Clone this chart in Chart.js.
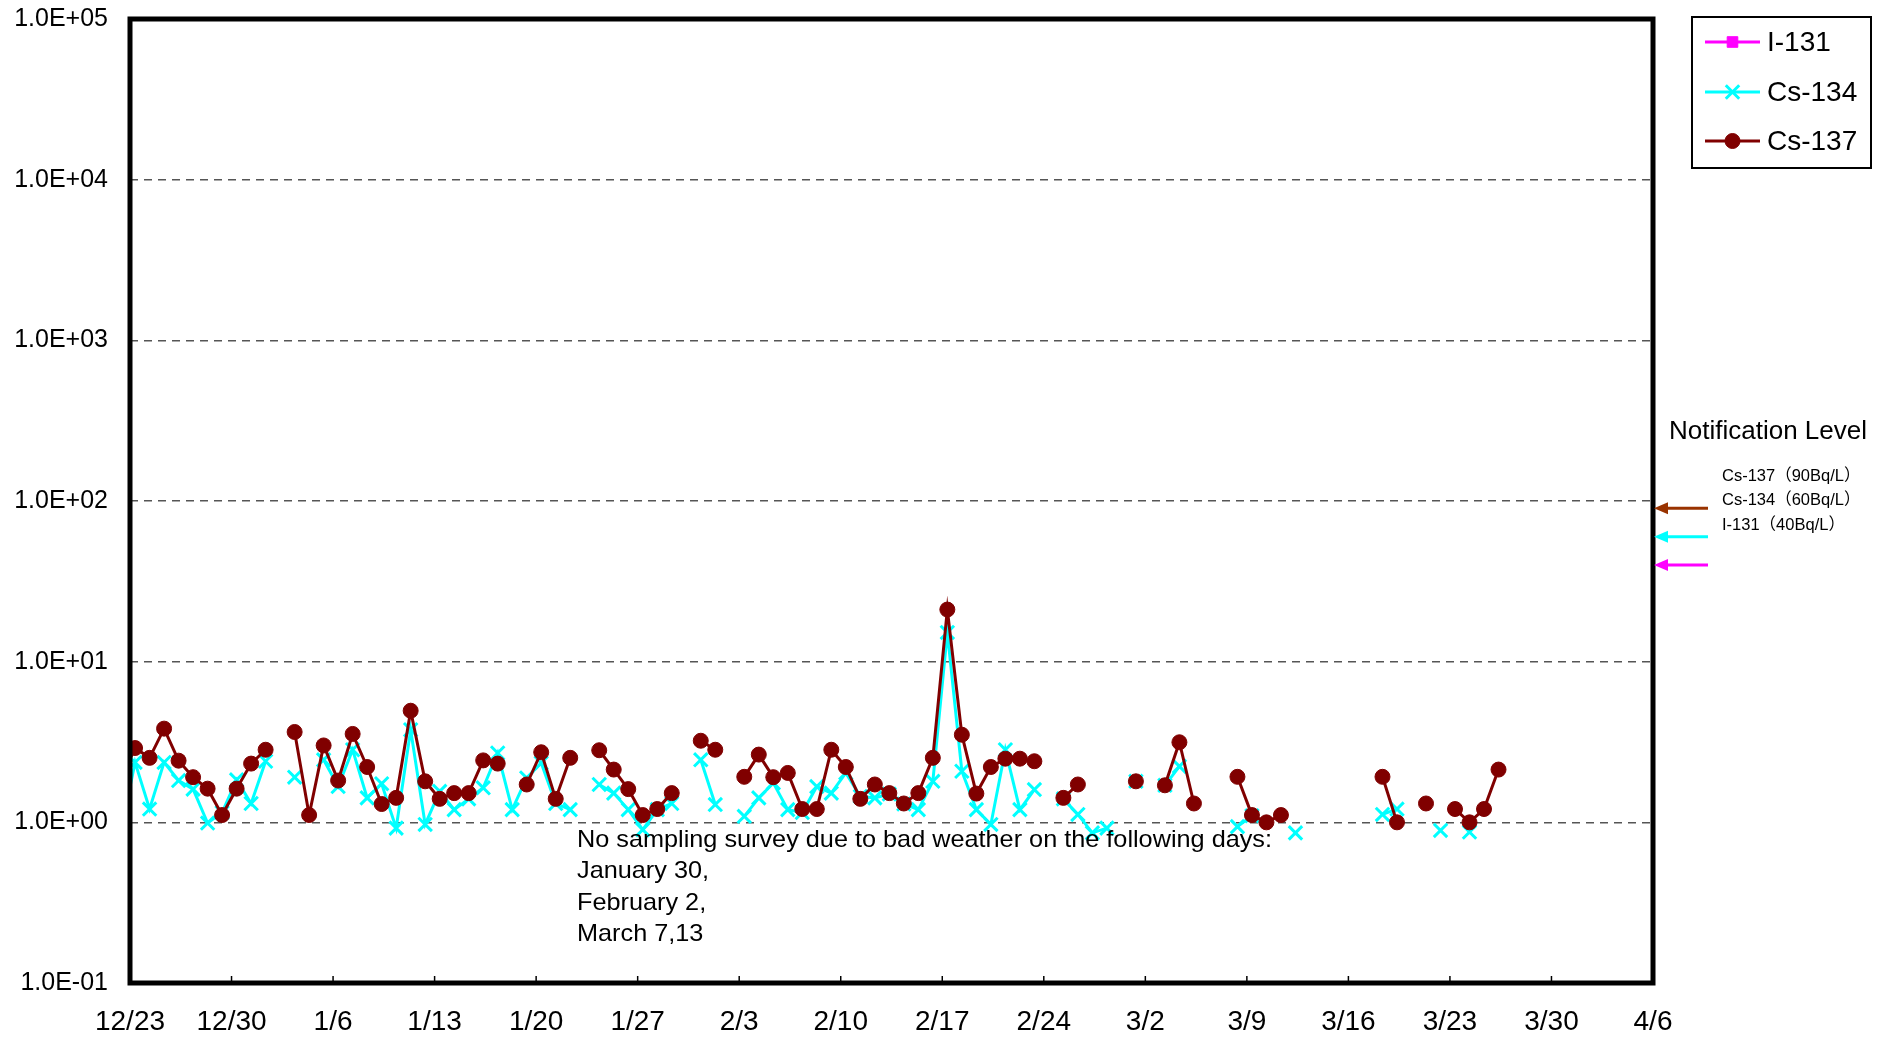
<!DOCTYPE html>
<html>
<head>
<meta charset="utf-8">
<title>Seawater monitoring</title>
<script src="https://cdn.jsdelivr.net/npm/chart.js@4.4.1/dist/chart.umd.min.js"></script>
<style>
    html, body { margin: 0; padding: 0; background: #fff; }
    #wrap { width: 1893px; height: 1040px; }
</style>
</head>
<body>
<div id="wrap"><canvas id="chart" width="1893" height="1040"></canvas></div>
<script>
// Weekly tick labels, day 0 = 12/23 (leap year, so 2/24 + 7 = 3/2)
const tickLabels = ['12/23', '12/30', '1/6', '1/13', '1/20', '1/27', '2/3', '2/10',
    '2/17', '2/24', '3/2', '3/9', '3/16', '3/23', '3/30', '4/6'];
const yTickValues = [0.1, 1, 10, 100, 1000, 10000, 100000];
const yTickLabels = ['1.0E-01', '1.0E+00', '1.0E+01', '1.0E+02', '1.0E+03', '1.0E+04', '1.0E+05'];

// Daily samples (Bq/L), first entry is 12/22. null = not detected / no sampling
const firstDay = -1;
const sampleTime = 0.35; // samples taken in the morning

const cs137 = [
    1.85, 2.90, 2.52, 3.83, 2.42, 1.91, 1.62, 1.11, 1.62, 2.32,
    2.83, null, 3.65, 1.11, 3.01, 1.82, 3.55, 2.21, 1.30, 1.42,
    4.95, 1.80, 1.40, 1.52, 1.52, 2.43, 2.32, null, 1.72, 2.73,
    1.40, 2.52, null, 2.81, 2.13, 1.61, 1.11, 1.21, 1.52, null,
    3.22, 2.83, null, 1.92, 2.64, 1.91, 2.03, 1.21, 1.21, 2.83,
    2.21, 1.40, 1.72, 1.52, 1.31, 1.52, 2.52, 21.1, 3.51, 1.51,
    2.21, 2.49, 2.49, 2.40, null, 1.42, 1.72, null, null, null,
    1.80, null, 1.70, 3.15, 1.31, null, null, 1.92, 1.11, 1.00,
    1.11, null, null, null, null, null, null, 1.92, 1.00, null,
    1.31, null, 1.21, 1.00, 1.21, 2.13
];

const cs134 = [
    0.87, 2.36, 1.21, 2.36, 1.82, 1.61, 0.99, 1.15, 1.84, 1.31,
    2.40, null, 1.91, null, 2.45, 1.67, 2.83, 1.42, 1.74, 0.92,
    3.77, 0.97, 1.56, 1.20, 1.40, 1.64, 2.70, 1.20, 1.89, 2.34,
    1.31, 1.20, null, 1.72, 1.52, 1.20, 0.90, 1.20, 1.31, null,
    2.45, 1.29, null, 1.09, 1.42, 1.76, 1.20, 1.15, 1.67, 1.52,
    2.03, 1.45, 1.42, 1.50, 1.30, 1.20, 1.80, 15.2, 2.08, 1.20,
    0.97, 2.83, 1.20, 1.60, null, 1.40, 1.12, 0.86, 0.92, null,
    1.80, null, 1.70, 2.23, null, null, null, 0.94, 1.10, null,
    null, 0.86, null, null, null, null, null, 1.12, 1.21, null,
    null, 0.89, null, 0.87, null, null
];

const i131 = []; // never detected in this period

// Notification levels, same order as notifyLabels
const notifyLevels = [90, 60, 40];
const notifyLabels = ['Cs-137（90Bq/L）', 'Cs-134（60Bq/L）', 'I-131（40Bq/L）'];
const notifyColors = ['#993300', '#00FFFF', '#FF00FF'];

const noteLines = [
    'No sampling survey due to bad weather on the following days:',
    'January 30,',
    'February 2,',
    'March 7,13'
];

const FONT = "'Liberation Sans', Arial, 'Noto Sans CJK JP', sans-serif";

function toPoints(values) {
    return values.map((v, i) => ({ x: firstDay + i + sampleTime, y: v }));
}

// Frame, inner x ticks, legend box and notification arrows
const decorations = {
    id: 'decorations',
    afterDraw(chart) {
        const ctx = chart.ctx;
        const area = chart.chartArea;
        const xs = chart.scales.x;
        const ys = chart.scales.y;

        ctx.save();

        // small inward ticks on the x axis
        ctx.strokeStyle = '#000';
        ctx.lineWidth = 1.5;
        xs.ticks.forEach(t => {
            const x = xs.getPixelForValue(t.value);
            ctx.beginPath();
            ctx.moveTo(x, area.bottom);
            ctx.lineTo(x, area.bottom - 7);
            ctx.stroke();
        });

        // thick plot frame
        ctx.lineWidth = 5;
        ctx.strokeRect(area.left, area.top, area.right - area.left, area.bottom - area.top);

        // legend
        const lx = 1692, ly = 17, lw = 179, lh = 151;
        ctx.fillStyle = '#fff';
        ctx.fillRect(lx, ly, lw, lh);
        ctx.lineWidth = 2;
        ctx.strokeStyle = '#000';
        ctx.strokeRect(lx, ly, lw, lh);
        const rows = [42, 92, 141];
        chart.data.datasets.forEach((ds, i) => {
            const y = rows[i];
            ctx.strokeStyle = ds.borderColor;
            ctx.lineWidth = 3;
            ctx.beginPath();
            ctx.moveTo(1705, y);
            ctx.lineTo(1760, y);
            ctx.stroke();
            ctx.fillStyle = ds.backgroundColor;
            ctx.strokeStyle = ds.borderColor;
            ctx.lineWidth = ds.pointBorderWidth;
            Chart.helpers.drawPoint(ctx, {
                pointStyle: ds.pointStyle,
                radius: ds.pointRadius,
                borderWidth: ds.pointBorderWidth
            }, 1732.5, y);
            ctx.fillStyle = '#000';
            ctx.font = '28px ' + FONT;
            ctx.textAlign = 'left';
            ctx.textBaseline = 'middle';
            ctx.fillText(ds.label, 1767, y + 1);
        });

        // notification level block
        ctx.fillStyle = '#000';
        ctx.font = '26px ' + FONT;
        ctx.textBaseline = 'middle';
        ctx.fillText('Notification Level', 1669, 432);
        ctx.font = '16.5px ' + FONT;
        notifyLabels.forEach((t, i) => {
            ctx.fillText(t, 1722, 476 + i * 24.5);
        });
        notifyLevels.forEach((lvl, i) => {
            const y = ys.getPixelForValue(lvl);
            const tip = area.right + 1;
            ctx.strokeStyle = notifyColors[i];
            ctx.fillStyle = notifyColors[i];
            ctx.lineWidth = 3;
            ctx.beginPath();
            ctx.moveTo(tip + 10, y);
            ctx.lineTo(1708, y);
            ctx.stroke();
            ctx.beginPath();
            ctx.moveTo(tip, y);
            ctx.lineTo(tip + 14, y - 6);
            ctx.lineTo(tip + 14, y + 6);
            ctx.closePath();
            ctx.fill();
        });

        // note about missing days, set in a narrow face
        ctx.fillStyle = '#000';
        ctx.font = '24px ' + FONT;
        ctx.textBaseline = 'alphabetic';
        const sx = 695 / ctx.measureText(noteLines[0]).width;
        noteLines.forEach((line, i) => {
            ctx.save();
            ctx.translate(577, 847 + i * 31.3);
            ctx.scale(sx, 1);
            ctx.fillText(line, 0, 0);
            ctx.restore();
        });

        ctx.restore();
    }
};

const ctx = document.getElementById('chart').getContext('2d');

new Chart(ctx, {
    type: 'line',
    data: {
        datasets: [{
            label: 'I-131',
            data: i131,
            borderColor: '#FF00FF',
            backgroundColor: '#FF00FF',
            pointStyle: 'rect',
            pointRadius: 7.5,
            pointBorderWidth: 1,
            borderWidth: 3,
            order: 3
        }, {
            label: 'Cs-134',
            data: toPoints(cs134),
            borderColor: '#00FFFF',
            backgroundColor: '#00FFFF',
            pointStyle: 'crossRot',
            pointRadius: 9.5,
            pointBorderWidth: 3,
            borderWidth: 3,
            order: 2
        }, {
            label: 'Cs-137',
            data: toPoints(cs137),
            borderColor: '#800000',
            backgroundColor: '#800000',
            pointStyle: 'circle',
            pointRadius: 7.5,
            pointBorderWidth: 1,
            borderWidth: 3,
            order: 1
        }]
    },
    options: {
        responsive: false,
        animation: false,
        devicePixelRatio: 1,
        spanGaps: false,
        layout: { padding: { top: 19, right: 240, left: 0, bottom: 0 } },
        plugins: {
            legend: { display: false },
            tooltip: { enabled: false }
        },
        scales: {
            x: {
                type: 'linear',
                min: 0,
                max: 105,
                afterFit: (scale) => { scale.height = 57; },
                grid: { display: false, drawTicks: false },
                border: { display: false },
                ticks: {
                    stepSize: 7,
                    autoSkip: false,
                    maxRotation: 0,
                    padding: 22,
                    color: '#000',
                    font: { family: FONT, size: 28 },
                    callback: (value, index) => tickLabels[index]
                }
            },
            y: {
                type: 'logarithmic',
                min: 0.1,
                max: 100000,
                afterFit: (scale) => {
                    scale.width = 130;
                    scale.paddingTop = 0;
                    scale.paddingBottom = 0;
                },
                afterBuildTicks: (scale) => {
                    scale.ticks = yTickValues.map(v => ({ value: v }));
                },
                grid: { color: '#555', lineWidth: 1.5, drawTicks: false },
                border: { display: false, dash: [8, 6] },
                ticks: {
                    padding: 22,
                    color: '#000',
                    font: { family: FONT, size: 25 },
                    callback: (value, index) => yTickLabels[index]
                }
            }
        }
    },
    plugins: [decorations]
});
</script>
</body>
</html>
